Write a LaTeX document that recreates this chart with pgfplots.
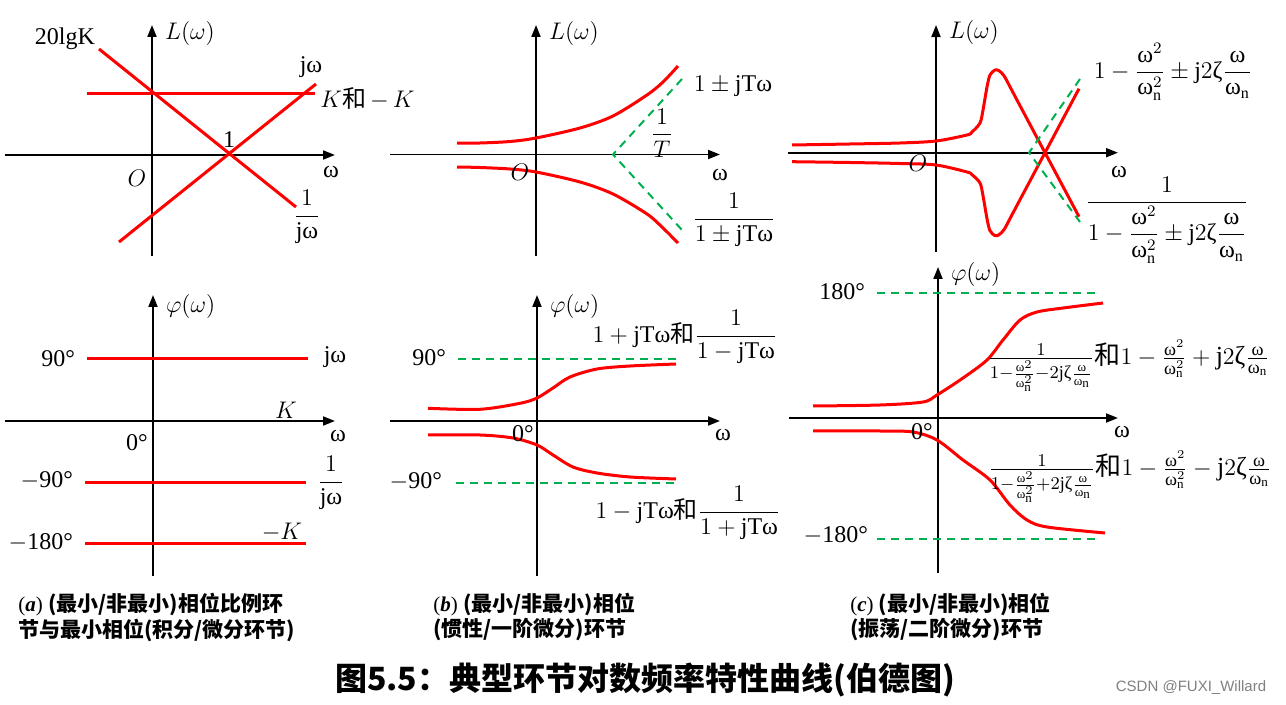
\documentclass[border=0pt]{standalone}
\usepackage{fontspec}
\usepackage{amsmath}
\usepackage{pgfplots}
\pgfplotsset{compat=1.18}
\usetikzlibrary{arrows.meta}
\setmainfont{Liberation Serif}
\newfontfamily\cjk{Noto Sans CJK SC}
\newfontfamily\sans{Liberation Sans}
\definecolor{myred}{RGB}{255,0,0}
\definecolor{mygreen}{RGB}{0,176,80}
\newcommand\w{\text{ω}}
\newcommand\z{\text{ζ}}
\newcommand\wn{\text{ω}_{\mathrm{n}}}
\pgfplotsset{
  panel/.style={scale only axis, axis lines=middle, xtick=\empty, ytick=\empty,
    clip=false, anchor=south west,
    axis line style={line width=0.9pt,-{Triangle[length=6pt,width=4.5pt]}}},
  rl/.style={color=myred, line width=1.5pt},
  rc/.style={color=myred, line width=1.5pt, smooth},
  gd/.style={color=mygreen, line width=1pt, dash pattern=on 4pt off 3pt},
}
\begin{document}
\begin{tikzpicture}[font=\fontsize{12}{14}\selectfont]
\path[use as bounding box] (0,0) rectangle (643pt,-352.5pt);

% ---------- (a) magnitude
\begin{axis}[panel, at={(2.5pt,-128pt)}, width=165pt, height=115.5pt,
  xmin=-147, xmax=183, ymin=-101, ymax=130]
\addplot[rl] coordinates {(-65,61.7) (163,61.7)};
\addplot[rl] coordinates {(-53,106) (144,-52)};
\addplot[rl] coordinates {(-33,-87) (164,71)};
\node at (-87,116) {20lgK};
\node[anchor=west] at (6,121) {$L(\omega)$};
\node at (159,88) {jω};
\node[anchor=west, inner sep=1pt] at (166,56) {$K${\cjk 和}$\,-\,K$};
\node at (77,15) {1};
\node at (179,-17) {ω};
\node at (-15,-23) {$O$};
\node at (155,-62) {$\dfrac{1}{\text{jω}}$};
\end{axis}

% ---------- (b) magnitude
\begin{axis}[panel, at={(195pt,-128pt)}, width=165pt, height=115.5pt,
  xmin=-146, xmax=184, ymin=-101.5, ymax=129.5]
\addplot[rc] coordinates {(-79,11.5) (-56,11.5) (-26,13) (0,16.5) (44,26.5) (77,38.5) (111,59.5) (127,72.5) (142,88.5)};
\addplot[rc] coordinates {(-79,-12.5) (-56,-13) (-26,-14.5) (0,-17.5) (44,-27.5) (77,-39.5) (111,-59.5) (127,-73.5) (142,-88.5)};
\addplot[gd] coordinates {(146,75.5) (77,0) (146,-75.5)};
\node[anchor=west] at (6,120.5) {$L(\omega)$};
\node at (197,68.5) {$1\pm\text{jT}\w$};
\node at (126,21.5) {$\dfrac{1}{T}$};
\node at (-16,-17.5) {$O$};
\node at (184,-20.5) {ω};
\node at (198,-65.5) {$\dfrac{1}{1\pm\text{jT}\w}$};
\end{axis}

% ---------- (c) magnitude
\begin{axis}[panel, at={(394pt,-126pt)}, width=165pt, height=113.5pt,
  xmin=-148, xmax=182, ymin=-99.3, ymax=127.7]
\addplot[rc] coordinates {(-144,7.7) (-86,8.7) (-36,9.7) (0,11.7) (31,17.7) (36,20.7) (44,29.7) (47,42.7) (51,65.7) (54,77.7) (59,82.7) (63,82) (68,77) (75,64) (84,47) (109,0) (143,-64)};
\addplot[rc] coordinates {(-144,-9) (-86,-9.8) (-36,-10.8) (0,-12.3) (31,-19.3) (36,-22) (44,-30.3) (47,-43) (51,-66) (54,-78) (59,-83) (63,-82) (68,-77) (75,-64) (84,-47) (109,0) (143,64)};
\addplot[gd] coordinates {(144,73.7) (93,0) (144,-69.3)};
\node[anchor=west] at (6,120.7) {$L(\omega)$};
\node at (237,80.7) {$1-\dfrac{\w^2}{\wn^2}\pm\text{j}2\z\dfrac{\w}{\wn}$};
\node at (-18,-10.3) {$O$};
\node at (183,-19.3) {ω};
\node at (231,-67.3) {$\dfrac{1}{1-\dfrac{\w^2}{\wn^2}\pm\text{j}2\z\dfrac{\w}{\wn}}$};
\end{axis}

% ---------- (a) phase
\begin{axis}[panel, at={(2.5pt,-288pt)}, width=165pt, height=140.5pt,
  xmin=-148, xmax=182, ymin=-155, ymax=126]
\addplot[rl] coordinates {(-66,62) (155,62)};
\addplot[rl] coordinates {(-68,-62) (153,-62)};
\addplot[rl] coordinates {(-68,-123) (153,-123)};
\node[anchor=west] at (6,114) {$\varphi(\omega)$};
\node[anchor=east] at (-71,62) {90°};
\node at (182,64) {jω};
\node at (133,11) {$K$};
\node at (-16,-22) {0°};
\node at (185,-15) {ω};
\node[anchor=east] at (-73,-60) {$-$90°};
\node at (178,-62) {$\dfrac{1}{\text{jω}}$};
\node[anchor=east] at (-73,-122) {$-$180°};
\node at (129,-111) {$-K$};
\end{axis}

% ---------- (b) phase
\begin{axis}[panel, at={(195pt,-288pt)}, width=165pt, height=140.5pt,
  xmin=-147, xmax=183, ymin=-155, ymax=126]
\addplot[gd] coordinates {(-79,62) (143,62)};
\addplot[gd] coordinates {(-81,-62) (139,-62)};
\addplot[rc] coordinates {(-109,12.7) (-57,11.7) (-17,17.7) (0,23) (16,33) (33,44) (60,52) (93,55) (139,57)};
\addplot[rc] coordinates {(-109,-14) (-57,-14) (-24,-17) (0,-24) (16,-34) (36,-46) (60,-52) (93,-56) (139,-58)};
\node[anchor=west] at (6,114) {$\varphi(\omega)$};
\node[anchor=east] at (-84,63) {90°};
\node[anchor=east] at (-88,-61) {$-$90°};
\node at (-14,-13) {0°};
\node at (186,-14) {ω};
\node at (148,84) {$1+\text{jT}\w${\cjk 和}$\dfrac{1}{1-\text{jT}\w}$};
\node at (151,-92) {$1-\text{jT}\w${\cjk 和}$\dfrac{1}{1+\text{jT}\w}$};
\end{axis}

% ---------- (c) phase
\begin{axis}[panel, at={(394.5pt,-286.5pt)}, width=164.5pt, height=153pt,
  xmin=-149, xmax=180, ymin=-155, ymax=151]
\addplot[gd] coordinates {(-61,125) (160,125)};
\addplot[gd] coordinates {(-61,-121) (160,-121)};
\addplot[rc] coordinates {(-125,12) (-58,13) (-15,16) (-1,23) (25,40) (49,58) (65,78) (82,98) (99,106) (125,110) (165,115)};
\addplot[rc] coordinates {(-125,-13) (-58,-13) (-25,-14) (-1,-22) (25,-42) (52,-62) (72,-87) (89,-102) (109,-109) (167,-115)};
\node[anchor=west] at (6,143) {$\varphi(\omega)$};
\node[anchor=east] at (-66,126) {180°};
\node[anchor=east] at (-63,-118) {$-$180°};
\node at (-16,-14) {0°};
\node at (184,-14) {ω};
\node[anchor=west, inner sep=0pt, font=\fontsize{13}{15}\selectfont] at (49,52) {$\frac{1}{1-\frac{\w^2}{\wn^2}-2\text{j}\z\frac{\w}{\wn}}${\cjk 和}$1-\frac{\w^2}{\wn^2}+\text{j}2\z\frac{\w}{\wn}$};
\node[anchor=west, inner sep=0pt, font=\fontsize{13}{15}\selectfont] at (50,-59) {$\frac{1}{1-\frac{\w^2}{\wn^2}+2\text{j}\z\frac{\w}{\wn}}${\cjk 和}$1-\frac{\w^2}{\wn^2}-\text{j}2\z\frac{\w}{\wn}$};
\end{axis}

% ---------- captions
\begin{scope}[font=\fontsize{10.5}{12}\selectfont]
\node[anchor=west, inner sep=0pt] at (9pt,-302.5pt) {({\bfseries\itshape a}) {\cjk\bfseries (最小/非最小)相位比例环}};
\node[anchor=west, inner sep=0pt] at (9pt,-315pt) {\cjk\bfseries 节与最小相位(积分/微分环节)};
\node[anchor=west, inner sep=0pt] at (216.5pt,-302.5pt) {({\bfseries\itshape b}) {\cjk\bfseries (最小/非最小)相位}};
\node[anchor=west, inner sep=0pt] at (216.5pt,-315pt) {\cjk\bfseries (惯性/一阶微分)环节};
\node[anchor=west, inner sep=0pt] at (425pt,-302.5pt) {({\bfseries\itshape c}) {\cjk\bfseries (最小/非最小)相位}};
\node[anchor=west, inner sep=0pt] at (425pt,-315pt) {\cjk\bfseries (振荡/二阶微分)环节};
\end{scope}
\node[font=\cjk\bfseries\fontsize{16}{18}\selectfont] at (322.5pt,-340pt) {图5.5：典型环节对数频率特性曲线(伯德图)};
\node[font=\sans\fontsize{7.5}{9}\selectfont, text=gray] at (595.5pt,-344pt) {CSDN @FUXI\_Willard};
\end{tikzpicture}
\end{document}
